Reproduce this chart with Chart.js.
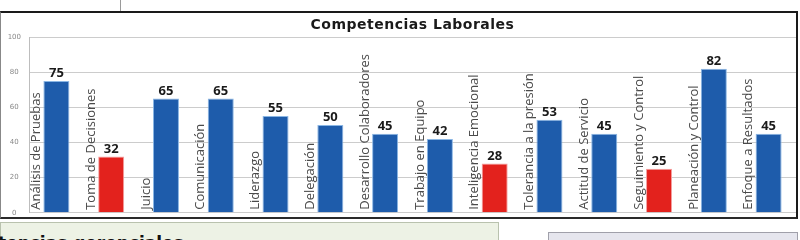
<!DOCTYPE html>
<html>
<head>
<meta charset="utf-8">
<script src="https://cdn.jsdelivr.net/npm/chart.js@4"></script>
<style>
  html, body { margin:0; padding:0; background:#ffffff; width:800px; height:240px; overflow:hidden; }
  #top { position:absolute; left:0; top:0; width:800px; height:11px; background:#ffffff; }
  #topline { position:absolute; left:120px; top:0; width:1px; height:11px; background:#9a9a9a; }
  #frame { position:absolute; left:0; top:11px; width:795px; height:204px; border-top:2px solid #1a1a1a; border-bottom:2px solid #2a2a2a; border-right:2px solid #1a1a1a; border-left:1px solid #888; background:#fff; box-sizing:content-box; }
  #wrap { position:absolute; left:0; top:0; width:795px; height:212px; }
  #green { position:absolute; left:0; top:222px; width:497px; height:30px; background:#edf2e5; border:1px solid #b9c2ae; }
  #gray { position:absolute; left:548px; top:232px; width:248px; height:20px; background:#e6e6ee; border:1px solid #a0a0aa; }
  #sub { position:absolute; left:-2px; top:233px; font:bold 17px "DejaVu Sans", sans-serif; color:#111; line-height:20px; white-space:nowrap; }
</style>
</head>
<body>
<div id="top"><div id="topline"></div></div>
<div id="green"></div>
<div id="gray"></div>
<div id="sub">tencias gerenciales</div>
<div id="frame"><div id="wrap"><canvas id="c"></canvas></div></div>
<script>
const chartTitle = "Competencias Laborales";
const categories = [
  "Análisis de Pruebas", "Toma de Decisiones", "Juicio", "Comunicación", "Liderazgo",
  "Delegación", "Desarrollo Colaboradores", "Trabajo en Equipo", "Inteligencia Emocional",
  "Tolerancia a la presión", "Actitud de Servicio", "Seguimiento y Control",
  "Planeación y Control", "Enfoque a Resultados"
];
const values = [75, 32, 65, 65, 55, 50, 45, 42, 28, 53, 45, 25, 82, 45];
const yTicks = [0, 20, 40, 60, 80, 100];
const lowThreshold = 40;

const fills = values.map(v => v < lowThreshold ? "#e3221d" : "#1e5cab");
const borders = values.map(v => v < lowThreshold ? "#f4a0a0" : "#8ab6e4");

const labelPlugin = {
  id: "labels",
  afterDatasetsDraw(chart) {
    const ctx = chart.ctx;
    const meta = chart.getDatasetMeta(0);
    const area = chart.chartArea;
    ctx.save();
    ctx.font = "bold 14px 'DejaVu Sans', sans-serif";
    ctx.letterSpacing = "0.5px";
    ctx.fillStyle = "#1a1a1a";
    ctx.textAlign = "center";
    ctx.textBaseline = "middle";
    ctx.fillText(chartTitle, (area.left + area.right) / 2, 12);
    ctx.letterSpacing = "0px";
    meta.data.forEach((bar, i) => {
      ctx.font = "bold 13px 'Open Sans', sans-serif";
      ctx.fillStyle = "#1a1a1a";
      ctx.textAlign = "center";
      ctx.textBaseline = "bottom";
      ctx.fillText(String(values[i]), bar.x, bar.y - 1);
      ctx.save();
      ctx.translate(bar.x - 20, area.bottom - 3);
      ctx.rotate(-Math.PI / 2);
      ctx.font = "13px 'Open Sans', sans-serif";
      ctx.fillStyle = "#4a4a4a";
      ctx.textAlign = "left";
      ctx.textBaseline = "middle";
      ctx.fillText(categories[i], 0, 0);
      ctx.restore();
    });
    ctx.restore();
  }
};

new Chart(document.getElementById("c"), {
  type: "bar",
  data: {
    labels: categories,
    datasets: [{
      data: values,
      backgroundColor: fills,
      borderColor: borders,
      borderWidth: 1,
      barPercentage: 0.95,
      categoryPercentage: 0.5
    }]
  },
  options: {
    responsive: true,
    maintainAspectRatio: false,
    animation: false,
    layout: { padding: { top: 24, bottom: 4, left: 0, right: 0 } },
    plugins: { legend: { display: false }, tooltip: { enabled: false }, title: { display: false } },
    scales: {
      x: { display: false, offset: true },
      y: {
        min: 0, max: 100,
        afterFit(s) { s.width = 28; },
        afterBuildTicks(s) { s.ticks = yTicks.map(v => ({ value: v })); },
        grid: { color: "#cccccc", drawTicks: false },
        border: { display: true, color: "#bdbdbd" },
        ticks: { font: { size: 7, family: "'DejaVu Sans', sans-serif" }, color: "#888", padding: 8, crossAlign: "center" }
      }
    }
  },
  plugins: [labelPlugin]
});
</script>
</body>
</html>
